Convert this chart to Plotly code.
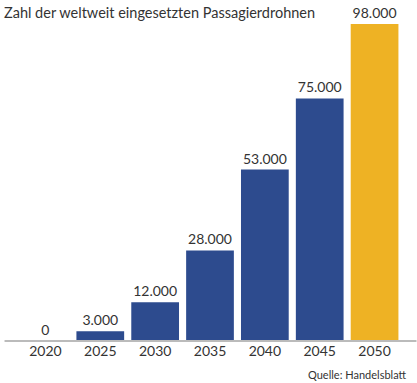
import plotly.graph_objects as go

years = ["2020", "2025", "2030", "2035", "2040", "2045", "2050"]
values = [0, 3000, 12000, 28000, 53000, 75000, 98000]
labels = ["0", "3.000", "12.000", "28.000", "53.000", "75.000", "98.000"]
colors = ["#2D4B8E"] * 6 + ["#EEB224"]

W, H = 417, 383
L, R, T, B = 17.5, 14.5, 24, 42
pw = W - L - R
ph = H - T - B

fig = go.Figure(go.Bar(
    x=years, y=values, text=labels, textposition="outside",
    textfont=dict(size=14, color="#333333"),
    marker=dict(color=colors, line=dict(width=0)),
    cliponaxis=False,
))

fig.update_layout(
    width=W, height=H,
    margin=dict(l=L, r=R, t=T, b=B, autoexpand=False),
    paper_bgcolor="white", plot_bgcolor="white",
    font=dict(family="Lato, Open Sans, sans-serif", color="#333333"),
    bargap=0.13,
    showlegend=False,
    title=dict(text="Zahl der weltweit eingesetzten Passagierdrohnen",
               xref="container", yref="container", x=4 / W, y=1 - 13 / H,
               xanchor="left", yanchor="middle",
               font=dict(size=14.5, color="#333333")),
    xaxis=dict(showline=False, showgrid=False, ticks="", tickfont=dict(size=14, color="#333333")),
    yaxis=dict(range=[0, 98000], visible=False, showgrid=False),
)

fig.add_shape(type="line", xref="paper", yref="paper",
              x0=(4 - L) / pw, x1=(417 - L) / pw, y0=0, y1=0,
              line=dict(color="#BBBBBB", width=2))

fig.add_annotation(text="Quelle: Handelsblatt", xref="paper", yref="paper",
                   x=(410 - L) / pw, y=-(374 - 341) / ph,
                   xanchor="right", yanchor="middle", showarrow=False,
                   font=dict(size=11, color="#333333"))

fig.write_html("out.html", config={"displayModeBar": False},
               post_script="document.body.style.margin='0';")
